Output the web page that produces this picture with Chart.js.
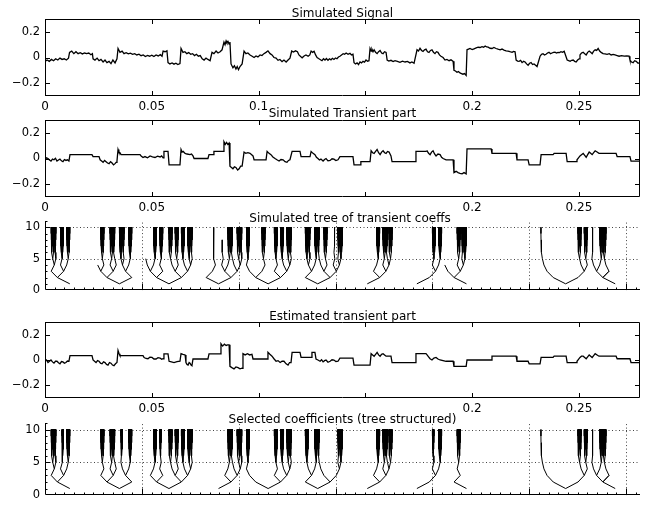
<!DOCTYPE html>
<html>
<head>
<meta charset="utf-8">
<script src="https://cdn.jsdelivr.net/npm/chart.js@4.4.1/dist/chart.umd.min.js"></script>
<style>
  body { margin: 0; background: #fff; }
  #wrap { position: relative; width: 651px; height: 507px; }
  canvas { position: absolute; left: 0; }
</style>
</head>
<body>
<div id="wrap">
  <canvas id="c1" width="651" height="118" style="top:0px"></canvas>
  <canvas id="c2" width="651" height="118" style="top:101px"></canvas>
  <canvas id="c3" width="651" height="100" style="top:202px"></canvas>
  <canvas id="c4" width="651" height="118" style="top:303px"></canvas>
  <canvas id="c5" width="651" height="103" style="top:404px"></canvas>
</div>
<script>
// ---- data ----
// time axis in ms (labels shown in seconds)
const tMaxMs = 278.6;
const xTickMs = [0, 50, 100, 150, 200, 250];
const xLabelsTop = ['0', '0.05', '0.1', '', '0.2', '0.25'];
const xLabelsOther = ['0', '0.05', '', '', '0.2', '0.25'];
const sigYTicks = [-0.2, 0, 0.2];

// [time ms, value]
const signal = [
  [0,-0.03],[1,-0.02],[2,-0.03],[3,-0.015],[4,-0.025],[5,-0.01],[6,-0.02],[7,-0.005],[8,-0.015],[9,-0.01],[10,-0.02],[11,-0.005],
  [11.5,0.04],[12.5,0.05],[13.5,0.03],[14.5,0.045],[15.5,0.03],[16.5,0.038],[17.5,0.028],[18.5,0.035],[19.5,0.03],[20.5,0.035],[21.5,0.022],[22.2,0.03],
  [22.5,-0.01],[23.4,-0.02],[24.4,-0.005],[25.3,-0.025],[26.2,-0.015],[27.2,-0.035],[28.1,-0.02],[29.0,-0.04],[30.0,-0.03],[30.9,-0.048],[31.8,-0.02],[32.8,-0.042],[33.7,-0.01],
  [34.2,0.07],[35.1,0.04],[36.1,0.05],[37,0.03],[38,0.038],[39,0.028],[40,0.034],[41,0.025],[42,0.03],[43,0.02],[44,0.026],[45,0.014],[46,0.02],[47,0.008],[48,0.016],[49,0.01],[50,0.018],[51,0.008],[52,0.02],[53,0.012],[54,0.022],[54.8,0.01],
  [55.3,0.05],[56.2,0.045],[57.1,0.052],
  [57.6,-0.04],[58.5,-0.05],[59.5,-0.043],[60.4,-0.052],[61.3,-0.045],[62.2,-0.055],[63.2,-0.048],
  [63.7,0.07],[64.6,0.04],[65.5,0.045],[66.4,0.03],[67.3,0.038],[68.2,0.025],[69.1,0.03],[70,0.015],[70.9,0.025],[71.8,0.01],[72.7,0.015],[73.6,-0.01],[74.5,-0.02],[75.4,-0.005],[76.3,-0.015],[77.3,-0.025],
  [78.2,0.04],[79.1,0.03],[80.1,0.05],[81,0.035],[82,0.045],[82.9,0.06],
  [83.8,0.12],[84.3,0.1],[84.8,0.13],[85.2,0.115],[85.7,0.125],[86.2,0.105],[86.6,0.12],
  [87.1,-0.05],[88.0,-0.08],[88.7,-0.065],[89.4,-0.09],[90.0,-0.07],[90.6,-0.095],[91.3,-0.07],[92.3,-0.05],
  [93.2,0.05],[94.1,0.03],[95,0.035],[96,0.02],[97,0.01],[97.9,0],[98.8,0.012],[99.7,0.005],[100.7,0.02],[101.6,0.015],[102.5,0.03],[103.5,0.04],[104.4,0.052],[105.4,0.03],[106.3,0.02],[107.2,0],[108.2,-0.005],[109.1,-0.022],[110,-0.015],[111,-0.032],[111.9,-0.02],[112.9,-0.035],[113.8,-0.02],[114.7,-0.005],
  [115.5,0.05],[116.4,0.042],[117.3,0.052],[118.2,0.045],[118.9,0.02],[119.7,0.008],[120.4,-0.002],[121.3,0.012],[122.2,0.02],[123.2,0.01],[124,0.02],
  [124.6,0.05],[125.3,0.04],[126,0.048],[126.7,0.02],[127.4,0],[128.1,-0.008],[128.8,-0.015],[129.7,-0.025],[130.4,-0.01],[131.1,-0.02],[131.8,-0.008],[132.5,-0.022],[133.2,-0.01],[133.9,-0.018],[134.6,-0.006],[135.3,-0.015],[136,-0.004],[136.7,-0.01],[137.4,0.004],[138.1,0.01],
  [139.6,0.03],[140.3,0.025],[141,0.035],[141.9,0.025],[142.8,0.032],[143.5,0.02],[144.2,0.025],
  [144.7,-0.04],[145.4,-0.05],[146.1,-0.042],[146.8,-0.055],[147.5,-0.035],[148.2,-0.042],[148.9,-0.03],[149.6,-0.036],[150.3,-0.02],[151,-0.03],[151.7,-0.025],
  [152.2,0.07],[152.7,0.05],[153.1,0.065],[153.6,0.045],[154.1,0.06],[154.8,0.04],[155.5,0.03],[156.2,0.045],[156.9,0.055],[157.6,0.035],[158.3,0.03],[159,0.045],[159.7,0.04],
  [160.2,-0.02],[161,-0.028],[162,-0.022],[163,-0.032],[163.9,-0.025],[165,-0.03],[166.2,-0.038],[167.4,-0.028],[168.6,-0.035],[169.7,-0.03],[170.9,-0.042],[171.8,-0.035],[172.8,-0.045],
  [174.2,0.06],[174.9,0.05],[175.6,0.072],[176.3,0.055],[177,0.048],[177.7,0.06],[178.4,0.065],[179.1,0.045],[179.8,0.04],[180.5,0.055],[181.2,0.06],[181.9,0.04],[182.6,0.03],[183.3,0.045],[184,0.04],[184.7,0.02],[185.4,0.01],[186.4,0],
  [187.3,-0.02],[188.2,-0.015],[189.2,-0.025],[190.1,-0.018],[191.1,-0.03],
  [191.5,-0.1],[192.2,-0.105],[192.9,-0.115],[193.6,-0.11],[194.3,-0.12],[195,-0.125],[195.7,-0.13],[196.4,-0.125],[197.2,-0.14],
  [197.6,0.06],[198.3,0.065],[199,0.07],[200,0.062],[200.9,0.068],[201.9,0.075],[202.8,0.08],[203.7,0.078],[204.6,0.085],[205.4,0.08],[206.1,0.09],[206.8,0.082],[207.5,0.08],[208.4,0.072],[209.3,0.07],[210.2,0.078],[211.2,0.07],[212.1,0.065],[213.1,0.06],[214,0.066],[214.9,0.058],[215.9,0.052],[216.8,0.05],[217.7,0.045],[218.7,0.04],[219.4,0.048],[220.1,0.045],
  [220.6,-0.02],[221.3,-0.028],[222,-0.03],[222.7,-0.022],[223.4,-0.04],[224.1,-0.03],[224.8,-0.035],[225.5,-0.05],[226.2,-0.06],[226.9,-0.045],[227.6,-0.04],[228.3,-0.055],[229,-0.05],[229.7,-0.06],[230.4,-0.07],
  [231.8,0.01],[232.5,0.025],[233.2,0.03],[233.9,0.02],[234.6,0.025],[235.3,0.035],[236,0.04],[236.7,0.03],[237.4,0.035],[238.1,0.04],[238.8,0.042],[239.5,0.035],[240.2,0.04],[240.9,0.038],[241.6,0.045],[242.3,0.04],[243.1,0.048],
  [244.5,-0.02],[245.2,-0.025],[245.9,-0.03],[246.6,-0.022],[247.3,-0.02],[248,-0.03],[248.7,-0.035],[249.4,-0.02],[250.1,-0.01],
  [250.5,0.02],[251.2,0.035],[252,0.04],[252.7,0.03],[253.4,0.02],[254.1,0.04],[254.8,0.05],[255.5,0.04],[256.2,0.03],[256.9,0.05],[257.6,0.06],[258.3,0.055],[259,0.07],[259.7,0.05],[260.4,0.04],
  [261.3,0.03],[262.2,0.028],[263.2,0.025],[264.2,0.03],[265.1,0.02],[266,0.024],[266.9,0.02],[267.9,0.015],[268.8,0.01],[270,0.014],[271.2,0.01],[272.4,0.012],[273.5,0.01],
  [273.9,-0.02],[274.6,-0.035],[275.4,-0.04],[276.1,-0.025],[276.8,-0.03],[277.7,-0.045],[278.6,-0.04]
];

const transient = [
  [0,-0.01],[0.7,0.005],[1.4,0],[2.1,-0.012],[2.8,-0.02],[3.5,-0.005],[4.2,-0.01],[4.9,0.002],[5.6,-0.02],[6.3,-0.012],[7.0,-0.005],[7.7,-0.018],[8.4,-0.025],[9.1,-0.008],[9.8,-0.015],[10.5,-0.01],[11.2,-0.02],
  [11.7,0.03],[22.0,0.03],[22.5,0.015],[25.3,0.015],
  [25.8,-0.01],[26.5,-0.02],[27.2,-0.03],[27.9,-0.015],[28.6,-0.025],[29.3,-0.035],[30.0,-0.04],[30.7,-0.025],[31.4,-0.035],[32.1,-0.05],[32.8,-0.04],[33.3,-0.03],[33.7,-0.02],
  [34.2,0.07],[34.6,0.05],[35.1,0.045],[35.6,0.03],[36.1,0.03],[44.5,0.03],[45.0,0.02],[45.9,0.008],[46.8,0.015],[48,0.005],[49.2,0.02],[50.3,0.012],[51.5,0.008],[52.7,0.018],[53.9,0.012],[54.6,0.02],[55.3,0.005],
  [55.7,0.055],[57.6,0.055],[58.1,-0.05],[63.2,-0.05],
  [63.7,0.07],[64.2,0.05],[64.7,0.055],[65.6,0.04],[66.5,0.035],[67.9,0.03],[68.6,0.035],[69.3,0.02],[69.8,0],[76.3,0],[76.8,0.03],[78.7,0.03],[79.1,0.055],[83.4,0.055],
  [83.8,0.13],[84.4,0.11],[85,0.125],[85.6,0.11],[86.2,0.12],
  [86.6,-0.06],[87.3,-0.07],[88.0,-0.08],[88.7,-0.065],[89.4,-0.07],[90.2,-0.09],[90.9,-0.08],[91.6,-0.06],[92.3,-0.06],
  [93.2,0.05],[94,0.04],[95,0.045],[96.0,0.04],[97.4,0.02],[97.9,-0.01],[103.5,-0.01],
  [104.0,0.055],[104.9,0.04],[105.8,0.03],[106.7,0.012],[107.7,0],[108.6,-0.01],[109.6,-0.02],[110.5,-0.008],[111.5,-0.01],[112.4,-0.025],[113.3,-0.03],[114,-0.015],[114.7,-0.01],
  [115.7,0.055],[119.4,0.055],[119.9,0.015],[124.1,0.015],[124.6,0.055],[125.5,0.04],[126.4,0.03],[127.1,0.01],[127.8,0],
  [128.5,-0.012],[129.2,-0.005],[130.2,-0.02],[130.9,-0.008],[131.6,0],[132.5,-0.018],[133.5,-0.015],[134.4,-0.002],[135.3,-0.005],[136.2,-0.016],[137.2,-0.01],
  [138.1,0.015],[144.2,0.015],[144.7,-0.05],[147.5,-0.05],[147.9,-0.025],[152.2,-0.025],
  [152.7,0.06],[153.4,0.045],[154.1,0.04],[154.8,0.055],[155.5,0.07],[156.2,0.045],[156.9,0.03],[157.6,0.05],[158.3,0.06],[159,0.045],[159.7,0.04],[160.4,0.055],[161.1,0.05],[162.0,0.02],
  [162.5,-0.025],[173.3,-0.025],[173.7,0.055],[178.4,0.055],
  [178.9,0.06],[179.6,0.04],[180.3,0.03],[181,0.05],[181.7,0.06],[182.4,0.035],[183.1,0.02],[184,0.035],[185.0,0.03],[185.7,0.01],[186.4,0],[187.8,-0.01],[191.1,-0.01],
  [191.5,-0.11],[192.5,-0.1],[193.4,-0.11],[194.3,-0.115],[195.3,-0.12],[196.2,-0.11],[197.2,-0.12],
  [197.6,0.075],[208.9,0.075],[209.3,0.04],[220.6,0.04],[221.0,-0.01],[226.2,-0.01],[226.7,-0.05],[231.8,-0.05],
  [232.3,0.03],[237.9,0.03],[238.4,0.04],[244.0,0.04],[244.5,-0.025],[248.7,-0.025],
  [249.1,-0.01],[249.8,0.005],[250.5,0.02],[251.2,0.03],[252.0,0.04],[252.7,0.025],[253.4,0.01],[254.1,0.03],[254.8,0.05],[255.5,0.04],[256.2,0.03],[256.9,0.045],[257.6,0.06],[258.5,0.05],[259.4,0.04],
  [267.4,0.04],[267.9,0.015],[273.9,0.015],[274.4,-0.02],[278.6,-0.02]
];

const estimated = [
  [0,-0.01],[0.7,0],[1.4,-0.02],[2.1,-0.01],[2.8,0],[3.5,-0.015],[4.2,-0.025],[4.9,-0.01],[5.6,-0.01],[6.3,-0.022],[7.0,-0.03],[7.7,-0.012],[8.4,-0.015],[9.1,-0.025],[9.8,-0.02],[10.5,-0.008],[11.2,-0.01],
  [11.7,0.035],[22.0,0.035],
  [22.5,0],[23.2,-0.01],[23.9,-0.02],[24.6,-0.005],[25.3,-0.01],[26,-0.025],[26.7,-0.03],[27.4,-0.015],[28.1,-0.02],[28.8,-0.035],[29.5,-0.04],[30.2,-0.02],[30.9,-0.025],[31.6,-0.04],[32.3,-0.045],[33,-0.03],[33.7,-0.02],
  [34.2,0.075],[34.7,0.05],[35.1,0.035],[45.9,0.035],[46.4,0.02],[47.3,0.012],[48.2,0.01],[49.1,0.022],[50.1,0.02],[51,0.008],[52.0,0.008],[52.9,0.018],[53.9,0.015],[54.6,0.005],[55.3,0.01],
  [55.7,0.048],[57.6,0.048],[58.1,-0.01],[59.2,-0.015],[60.4,-0.02],[61.8,-0.012],[63.2,-0.01],
  [63.7,0.05],[64.6,0.045],[65.6,0.04],[66.0,-0.02],[66.5,-0.035],[67.0,-0.04],[67.5,-0.02],[67.9,-0.025],[68.4,-0.04],[68.8,-0.045],[69.3,0.008],[76.3,0.008],
  [76.8,0.048],[82.0,0.048],[82.4,0.128],[83.2,0.11],[84,0.125],[84.8,0.115],[85.5,0.12],[86.2,0.12],
  [86.6,-0.05],[87.5,-0.06],[88.5,-0.07],[89.4,-0.055],[90.4,-0.06],[91.3,-0.07],[92.3,-0.065],
  [92.7,0.05],[93.7,0.04],[94.8,0.05],[95.8,0.04],[96.9,0.045],[97.4,0.008],[104.0,0.008],
  [104.4,0.06],[105.3,0.045],[106.3,0.03],[107.2,0.01],[108.2,-0.01],[109.1,-0.005],[110.1,-0.02],[111,-0.01],[111.9,-0.01],[112.9,-0.03],[113.8,-0.04],[114.5,-0.02],[115.2,-0.02],
  [115.7,0.06],[119.4,0.06],[119.9,0.02],[124.6,0.02],[125.0,0.06],[126.4,0.06],[126.9,0.008],
  [127.8,0],[128.8,-0.01],[129.5,0.002],[130.2,-0.015],[130.9,-0.005],[131.6,0],[132.5,-0.018],[133.5,-0.01],[134.4,0.002],[135.3,0],[136.2,-0.012],[137.2,-0.01],
  [138.1,0.015],[144.2,0.015],[144.7,-0.04],[152.2,-0.04],
  [152.7,0.05],[153.4,0.04],[154.1,0.03],[154.8,0.045],[155.5,0.06],[156.2,0.04],[156.9,0.03],[157.6,0.045],[158.3,0.05],[159,0.04],[159.7,0.03],[162.0,0.03],
  [162.5,-0.02],[173.3,-0.02],[173.7,0.05],[178.4,0.05],
  [178.9,0.04],[179.6,0.025],[180.3,0.01],[181.2,0],[182.1,0.015],[183.1,0.02],[184,0.008],[185.0,0],[186.4,-0.005],[187.8,-0.01],[191.1,-0.01],
  [191.5,-0.05],[197.2,-0.05],
  [197.6,0],[208.9,0],[209.3,0.03],[220.6,0.03],[221.0,-0.01],[226.2,-0.01],[226.7,-0.03],[231.8,-0.03],
  [232.3,0.02],[237.9,0.02],[238.4,0.03],[244.0,0.03],[244.5,-0.02],[248.7,-0.02],
  [249.1,-0.01],[249.8,0.005],[250.5,0.02],[251.2,0.03],[252.0,0.03],[252.7,0.02],[253.4,0.01],[254.1,0.025],[254.8,0.04],[255.5,0.03],[256.2,0.02],[256.9,0.035],[257.6,0.05],[258.5,0.04],[259.4,0.03],
  [267.4,0.03],[267.9,0.01],[273.9,0.01],[274.4,-0.02],[278.6,-0.02]
];

// tree plots: x in samples, y = scale level
const treeSamples = 6144;
const treeBaseWidth = 1024;   // samples per level-0 node
const treeRootLevel = 1;
const treeTopLevel = 10;
const treeYTicks = [0, 5, 10];
const treeGridX = [1000, 2000, 3000, 4000, 5000, 6000];
const treeGridY = [5, 10];

// [level, index]: node whose whole subtree up to the top level is kept
const stemsSim = [
  [5,2],[6,6],[5,5],[5,7],
  [5,18],[5,21],[6,44],[5,24],[6,50],[5,27],
  [5,35],[5,37],[5,40],[5,42],[5,44],[5,46],[6,94],
  [10,1743],[5,59],[6,120],[5,62],[6,126],
  [5,65],[5,70],[5,74],[5,76],[5,78],[6,158],
  [5,84],[6,170],[5,87],[6,176],[5,90],[10,2990],[6,189],[5,95],
  [5,107],[5,109],[5,111],[6,220],
  [5,125],[5,127],
  [5,133],[5,135],[6,269],
  [10,5121],[5,172],[5,174],
  [10,5654],[5,179],[5,180]
];
// [level, index]: branches that stop at that level
const leavesSim = [[4,8],[5,32],[8,457],[4,64],[3,45]];

const stemsSel = [
  [5,2],[6,6],[6,11],[5,7],
  [5,18],[5,21],[6,44],[6,49],[5,27],
  [5,35],[6,74],[5,40],[5,42],[5,44],[5,46],[6,94],
  [5,59],[6,120],[5,62],[6,126],
  [5,65],[5,74],[5,76],[5,78],[6,158],
  [5,84],[5,87],[6,176],[6,189],[5,95],
  [5,107],[5,109],[5,111],[6,220],
  [6,250],[5,127],
  [5,133],
  [10,5121],[5,172],[5,174],
  [10,5654],[5,179],[5,180]
];
const leavesSel = [[3,45]];

// ---- drawing ----
const FONT = "'DejaVu Sans', 'Liberation Sans', Arial, sans-serif";
Chart.defaults.font.family = FONT;
Chart.defaults.font.size = 12;
Chart.defaults.color = '#000';

function fmt(v) {
  return v < 0 ? '\u2212' + Math.abs(v) : String(v);
}

const panelTitle = {
  id: 'panelTitle',
  afterDraw(chart, args, opts) {
    const ctx = chart.ctx;
    ctx.save();
    ctx.font = '12px ' + FONT;
    ctx.fillStyle = '#000';
    ctx.textAlign = 'center';
    ctx.textBaseline = 'alphabetic';
    ctx.fillText(opts.text, opts.x, opts.y);
    ctx.restore();
  }
};

// boxed axes with inward ticks, like the signal panels
const boxAxes = {
  id: 'boxAxes',
  afterDatasetsDraw(chart) {
    const { ctx, chartArea: a, scales } = chart;
    const x = scales.x, y = scales.y;
    ctx.save();
    ctx.strokeStyle = '#000';
    ctx.lineWidth = 1;
    ctx.beginPath();
    ctx.rect(a.left + 0.5, a.top + 0.5, a.right - a.left - 1, a.bottom - a.top - 1);
    x.ticks.forEach(t => {
      const p = Math.round(x.getPixelForValue(t.value)) + 0.5;
      ctx.moveTo(p, a.bottom); ctx.lineTo(p, a.bottom - 5);
      ctx.moveTo(p, a.top); ctx.lineTo(p, a.top + 5);
    });
    y.ticks.forEach(t => {
      const p = Math.round(y.getPixelForValue(t.value)) + 0.5;
      ctx.moveTo(a.left, p); ctx.lineTo(a.left + 5, p);
      ctx.moveTo(a.right, p); ctx.lineTo(a.right - 5, p);
    });
    ctx.stroke();
    ctx.restore();
  }
};

// dotted grid + left/bottom axes with minor ticks, like the tree panels
const treeAxes = {
  id: 'treeAxes',
  beforeDatasetsDraw(chart) {
    const { ctx, chartArea: a, scales } = chart;
    const x = scales.x, y = scales.y;
    ctx.save();
    ctx.strokeStyle = '#444';
    ctx.lineWidth = 1;
    ctx.setLineDash([1, 2.5]);
    ctx.beginPath();
    treeGridX.forEach(v => {
      const p = Math.round(x.getPixelForValue(v)) + 0.5;
      ctx.moveTo(p, a.bottom); ctx.lineTo(p, a.top);
    });
    treeGridY.forEach(v => {
      const p = Math.round(y.getPixelForValue(v)) + 0.5;
      ctx.moveTo(a.left, p); ctx.lineTo(a.right, p);
    });
    ctx.stroke();
    ctx.restore();
  },
  afterDatasetsDraw(chart) {
    const { ctx, chartArea: a, scales } = chart;
    const x = scales.x, y = scales.y;
    const l = a.left + 0.5, b = Math.round(a.bottom) - 0.5;
    ctx.save();
    ctx.strokeStyle = '#000';
    ctx.lineWidth = 1;
    ctx.beginPath();
    ctx.moveTo(l, a.top); ctx.lineTo(l, b); ctx.lineTo(a.right, b);
    for (let v = 100; v < treeSamples; v += 100) {
      const p = Math.round(x.getPixelForValue(v)) + 0.5;
      const len = treeGridX.includes(v) ? 6 : 2;
      ctx.moveTo(p, b); ctx.lineTo(p, b - len);
    }
    for (let v = 1; v <= 11; v++) {
      const p = Math.round(y.getPixelForValue(v)) + 0.5;
      const len = treeYTicks.includes(v) ? 5 : 2;
      ctx.moveTo(l, p); ctx.lineTo(l + len, p);
    }
    ctx.stroke();
    ctx.restore();
  }
};

function sigChart(id, pts, xLabels, title, titleY, padBottom) {
  return new Chart(document.getElementById(id), {
    type: 'line',
    data: {
      datasets: [{
        data: pts.map(p => ({ x: p[0], y: p[1] })),
        borderColor: '#000',
        borderWidth: 1.3,
        pointRadius: 0,
        tension: 0
      }]
    },
    options: {
      responsive: false,
      animation: false,
      devicePixelRatio: 1,
      layout: { padding: { top: 19, right: 11, left: 0, bottom: padBottom } },
      plugins: {
        legend: { display: false },
        tooltip: { enabled: false },
        panelTitle: { text: title, x: 342.5, y: titleY }
      },
      scales: {
        x: {
          type: 'linear', min: 0, max: tMaxMs,
          grid: { display: false, drawTicks: false },
          border: { display: false },
          afterBuildTicks: s => { s.ticks = xTickMs.map(v => ({ value: v })); },
          afterFit: s => { s.height = 20; },
          ticks: { autoSkip: false, maxRotation: 0, padding: 4, callback: (v, i) => xLabels[i] }
        },
        y: {
          type: 'linear', min: -0.3, max: 0.3,
          grid: { display: false, drawTicks: false },
          border: { display: false },
          afterBuildTicks: s => { s.ticks = sigYTicks.map(v => ({ value: v })); },
          afterFit: s => { s.width = 45; },
          ticks: { padding: 5, font: { size: 11.5 }, callback: v => fmt(v) }
        }
      }
    },
    plugins: [panelTitle, boxAxes]
  });
}

function treePoints(stems, leaves) {
  const seen = new Set();
  const pts = [];
  const pos = (j, k) => (k + 0.5) * treeBaseWidth / Math.pow(2, j);
  function walk(j, k) {
    pts.push({ x: pos(j, k), y: j });
    seen.add(j + ':' + k);
    while (j > treeRootLevel) {
      j -= 1;
      k = Math.floor(k / 2);
      pts.push({ x: pos(j, k), y: j });
      const key = j + ':' + k;
      if (seen.has(key)) break;
      seen.add(key);
    }
    pts.push({ x: pos(j, k), y: null });
  }
  stems.forEach(([j, k]) => {
    const n = Math.pow(2, treeTopLevel - j);
    for (let i = 0; i < n; i++) walk(treeTopLevel, k * n + i);
  });
  leaves.forEach(([j, k]) => walk(j, k));
  return pts;
}

function treeChart(id, stems, leaves, title, titleX, titleY, padBottom) {
  return new Chart(document.getElementById(id), {
    type: 'line',
    data: {
      datasets: [{
        data: treePoints(stems, leaves),
        borderColor: '#000',
        borderWidth: 1,
        pointRadius: 0,
        tension: 0,
        spanGaps: false
      }]
    },
    options: {
      responsive: false,
      animation: false,
      devicePixelRatio: 1,
      layout: { padding: { top: 19, right: 11, left: 0, bottom: padBottom } },
      plugins: {
        legend: { display: false },
        tooltip: { enabled: false },
        panelTitle: { text: title, x: titleX, y: titleY }
      },
      scales: {
        x: {
          type: 'linear', min: 0, max: treeSamples,
          grid: { display: false, drawTicks: false },
          border: { display: false },
          ticks: { display: false },
          afterFit: s => { s.height = 0; }
        },
        y: {
          type: 'linear', min: 0, max: 11,
          grid: { display: false, drawTicks: false },
          border: { display: false },
          afterBuildTicks: s => { s.ticks = treeYTicks.map(v => ({ value: v })); },
          afterFit: s => { s.width = 45; },
          ticks: { padding: 5, font: { size: 11.5 } }
        }
      }
    },
    plugins: [panelTitle, treeAxes]
  });
}

sigChart('c1', signal, xLabelsTop, 'Simulated Signal', 16.5, 2);
sigChart('c2', transient, xLabelsOther, 'Simulated Transient part', 15.5, 2);
treeChart('c3', stemsSim, leavesSim, 'Simulated tree of transient coeffs', 350, 19.5, 5);
sigChart('c4', estimated, xLabelsOther, 'Estimated transient part', 16.5, 3);
treeChart('c5', stemsSel, leavesSel, 'Selected coefficients (tree structured)', 342.5, 19, 8);
</script>
</body>
</html>
